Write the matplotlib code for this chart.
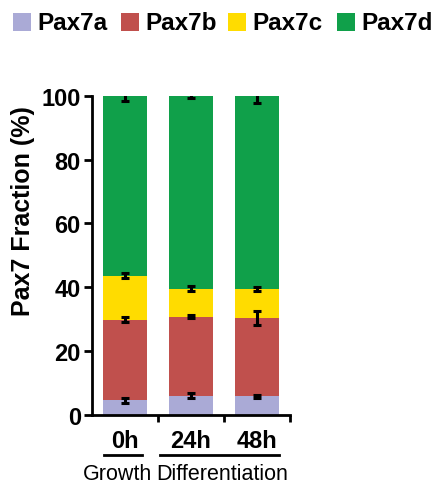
import numpy as np
import matplotlib
matplotlib.use("Agg")
import matplotlib.pyplot as plt
from matplotlib.patches import Rectangle
from matplotlib.lines import Line2D

plt.rcParams["font.family"] = ["Liberation Sans", "DejaVu Sans"]

# time points and the fraction (%) of each isoform
timepoints = ["0h", "24h", "48h"]
isoforms = ["Pax7a", "Pax7b", "Pax7c", "Pax7d"]
pax7a = [4.5, 6.0, 5.7]
pax7b = [25.3, 24.7, 24.6]
pax7c = [13.8, 8.8, 9.2]
pax7d = [56.4, 60.5, 60.5]

# error (+/-) shown at the top of each stacked segment
err_a = [0.7, 0.7, 0.5]
err_b = [0.7, 0.5, 2.3]
err_c = [0.8, 0.7, 0.6]
err_d = [1.7, 0.7, 2.4]

colors = ["#aaaad6", "#c0504d", "#ffdc00", "#10a04a"]

W, H = 440, 489
fig = plt.figure(figsize=(W / 100, H / 100), dpi=100)
ax = fig.add_axes([0.209, 0.150, 0.450, 0.652])

x = np.arange(len(timepoints))
bottom = np.zeros(len(timepoints))
for vals, errs, col in zip([pax7a, pax7b, pax7c, pax7d],
                           [err_a, err_b, err_c, err_d], colors):
    vals = np.array(vals)
    ax.bar(x, vals, width=0.66, bottom=bottom, color=col, linewidth=0, zorder=2)
    ax.errorbar(x, bottom + vals, yerr=errs, fmt="none", ecolor="black",
                elinewidth=2.2, capsize=3, capthick=2.2, zorder=3)
    bottom = bottom + vals

ax.set_xlim(-0.5, 2.5)
ax.set_ylim(0, 100)
ax.set_yticks([0, 20, 40, 60, 80, 100])
ax.set_xticks(x)
ax.set_xticklabels(timepoints, fontsize=17, fontweight="bold")
ax.set_xticks([0.5, 1.5, 2.5], minor=True)
ax.tick_params(axis="x", which="major", length=0, pad=10)
ax.tick_params(axis="x", which="minor", length=5, width=2)
ax.tick_params(axis="y", length=6, width=2, labelsize=17, pad=2)
for lbl in ax.get_yticklabels():
    lbl.set_fontweight("bold")

for side in ["top", "right"]:
    ax.spines[side].set_visible(False)
for side in ["left", "bottom"]:
    ax.spines[side].set_linewidth(2)

fig.text(23 / W, 1 - 211 / H, "Pax7 Fraction (%)", rotation=90,
         ha="center", va="center", fontsize=18, fontweight="bold")

# group brackets under the tick labels
fig.add_artist(Line2D([104 / W, 142 / W], [1 - 456 / H] * 2,
                      color="black", linewidth=2))
fig.add_artist(Line2D([160 / W, 279 / W], [1 - 456 / H] * 2,
                      color="black", linewidth=2))
fig.text(117 / W, 1 - 475 / H, "Growth", ha="center", va="center", fontsize=15.5)
fig.text(222 / W, 1 - 475 / H, "Differentiation", ha="center", va="center", fontsize=15.5)

# legend row along the top
box_x = [13, 121, 228, 337]
box = 18
for bx, name, col in zip(box_x, isoforms, colors):
    fig.add_artist(Rectangle((bx / W, 1 - (22.5 + box / 2) / H), box / W, box / H,
                             transform=fig.transFigure, facecolor=col,
                             edgecolor="none"))
    fig.text((bx + box + 6) / W, 1 - 23 / H, name, ha="left", va="center",
             fontsize=17.5, fontweight="bold")

fig.savefig("out.png", dpi=100)
